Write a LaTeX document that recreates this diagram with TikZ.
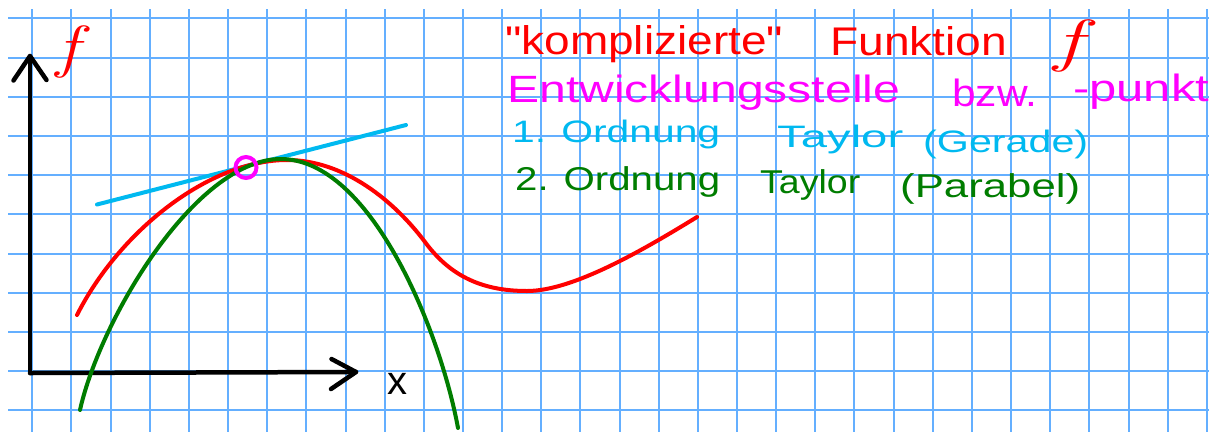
\documentclass[tikz,border=0pt]{standalone}
\usepackage{fontspec}
\setmainfont{Liberation Sans}[Ligatures=TeXOff]
\newfontfamily\lmr{Latin Modern Roman}
\usepackage{graphicx}
\definecolor{gridblue}{RGB}{100,175,255}
\definecolor{pred}{RGB}{255,0,0}
\definecolor{pmag}{RGB}{255,0,255}
\definecolor{pcyan}{RGB}{0,185,240}
\definecolor{pgreen}{RGB}{0,125,0}
\newcommand\fitw[2]{\resizebox{#1pt}{\height}{#2}}
\tikzset{
  gridline/.style={gridblue, line width=2pt},
  axisline/.style={black, line width=4.5pt, line cap=round, line join=round},
  curveline/.style={line width=4pt, line cap=round, line join=round},
  hw/.style={inner sep=0pt, anchor=base west},
  lineone/.style={hw, text=pred, font=\fontsize{40}{40}\selectfont},
  linetwo/.style={hw, text=pmag, font=\fontsize{38}{38}\selectfont},
  linethree/.style={hw, text=pcyan, font=\fontsize{31}{31}\selectfont},
  linefour/.style={hw, text=pgreen, font=\fontsize{33}{33}\selectfont},
  fletter/.style={inner sep=0pt, text=pred, font=\fontsize{58}{58}\selectfont\lmr\itshape},
}
\begin{document}
\begin{tikzpicture}[x=1pt,y=-1pt]
\useasboundingbox (0,0) rectangle (1209,432);
\fill[white] (0,0) rectangle (1209,432);
% grid
\foreach \k in {0,...,30} \draw[gridline] ({32.3+39.15*\k},9) -- ({32.3+39.15*\k},432);
\foreach \k in {0,...,10} \draw[gridline] (8,{18.3+39.2*\k}) -- (1209,{18.3+39.2*\k});
% axes
\coordinate (O) at (30,373);
\coordinate (ytip) at (30,56);
\coordinate (xtip) at (356,372);
\coordinate (ya) at (13.5,80.5);
\coordinate (yb) at (46.5,80);
\coordinate (xa) at (331.5,359);
\coordinate (xb) at (331,389);
\draw[axisline] (O) -- (ytip);
\draw[axisline] (O) -- (xtip);
\draw[axisline] (ya) -- (ytip) -- (yb);
\draw[axisline] (xa) -- (xtip) -- (xb);
\node[fletter] (flab) at (67.5,51.5) {\scalebox{1.3}[1]{f}};
\node[inner sep=0pt, font=\fontsize{40}{40}\selectfont] (xlab) at (397,384) {x};
% tangent line
\coordinate (t1) at (97,204.5);
\coordinate (t2) at (406,125);
\draw[curveline, pcyan] (t1) -- (t2);
% red function
\draw[curveline, pred] (77,315) .. controls (120,230) and (210,160) .. (287,160)
  .. controls (345,160) and (395,202) .. (425,242)
  .. controls (448,273) and (478,291) .. (527,291)
  .. controls (572,291) and (640,252) .. (697,217);
% green parabola
\draw[curveline, pgreen] (80,410) .. controls (100,320) and (195,160) .. (280,159)
  .. controls (370,158) and (440,330) .. (458,428);
% expansion point
\node[draw=pmag, line width=4pt, circle, minimum size=21pt, inner sep=0pt] (P) at (246,167.5) {};
% texts
\node[lineone] (t1a) at (505,54) {\fitw{278}{"komplizierte"}};
\node[lineone] (t1b) at (830,55) {\fitw{177}{Funktion}};
\node[fletter] (t1c) at (1068,46) {\scalebox{1.6}[1]{f}};
\node[linetwo] (t2a) at (507,102) {\fitw{393}{Entwicklungsstelle}};
\node[linetwo] (t2b) at (952,106) {\fitw{85}{bzw.}};
\node[linetwo] (t2c) at (1073,101) {\fitw{136}{-punkt}};
\node[linethree] (t3a) at (512,142) {\fitw{208}{1. Ordnung}};
\node[linethree] (t3b) at (777,147) {\fitw{126}{Taylor}};
\node[linethree] (t3c) at (923,152) {\fitw{165}{(Gerade)}};
\node[linefour] (t4a) at (515,190) {\fitw{205}{2. Ordnung}};
\node[linefour] (t4b) at (760,193) {\fitw{100}{Taylor}};
\node[linefour] (t4c) at (900,197) {\fitw{180}{(Parabel)}};
\end{tikzpicture}
\end{document}
